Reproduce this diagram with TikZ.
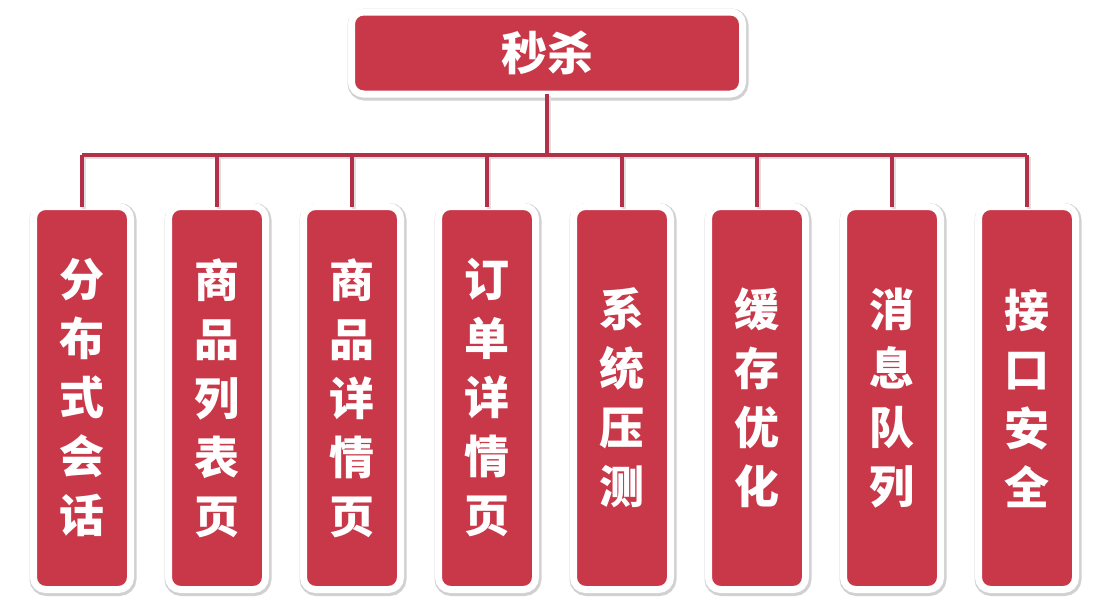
\documentclass[tikz,border=0pt]{standalone}
\usepackage{fontspec}
\newfontfamily\cjk{Noto Sans CJK SC}
\usetikzlibrary{positioning,backgrounds}
\definecolor{cBox}{RGB}{200,56,73}
\definecolor{cLink}{RGB}{178,48,72}

\tikzset{
  card/.style={fill=cBox, draw=white, line width=7pt, rounded corners=12pt, outer sep=0pt,
    preaction={draw=black!18, line width=10pt, transform canvas={shift={(1pt,-1.5pt)}}},
    text=white, font=\cjk\bfseries, align=center},
  rootcard/.style={card, minimum width=391pt, minimum height=82pt, font=\cjk\bfseries\fontsize{46}{50}\selectfont},
  leafcard/.style={card, minimum width=97pt, minimum height=383pt, inner sep=0pt,
    font=\cjk\bfseries\fontsize{45}{59}\selectfont},
  link/.style={draw=cLink, line width=3.5pt,
    preaction={draw=black!12, line width=3.5pt, transform canvas={shift={(2pt,-2pt)}}}}
}

\begin{document}
\begin{tikzpicture}[x=1pt, y=-1pt]
\useasboundingbox (0,0) rectangle (1096,616);
% root and bus
\node[rootcard] (root) at (547,53) {秒杀};
\coordinate (bus) at (547,155);
% eight columns, 135 apart
\foreach \txt [count=\i] in {分\\布\\式\\会\\话, 商\\品\\列\\表\\页, 商\\品\\详\\情\\页, 订\\单\\详\\情\\页,
    系\\统\\压\\测, 缓\\存\\优\\化, 消\\息\\队\\列, 接\\口\\安\\全} {
  \node[leafcard] (b\i) at ({82+135*(\i-1)},398) {\txt};
}
\draw[link] (root.south) -- (bus);
\draw[link] (b1 |- bus) -- (b8 |- bus);
\foreach \i in {1,...,8} { \draw[link] (b\i |- bus) -- (b\i.north); }
\end{tikzpicture}
\end{document}
